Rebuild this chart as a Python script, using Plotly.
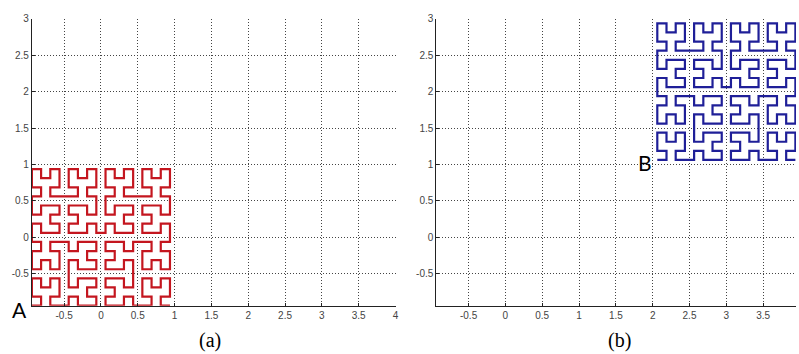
import plotly.graph_objects as go

# ---- data ----
hilbert_order = 4            # order of the Hilbert curve drawn in both panels
curve_scale = 2.0            # curve spans [-1, 1] (cell centres at +-0.9375)
offset_a = [0.0, 0.0]        # curve A centred at origin
offset_b = [3.0, 2.0]        # curve B translated by (3, 2)
tick_vals = [-0.5, 0, 0.5, 1, 1.5, 2, 2.5, 3, 3.5, 4]
tick_text = ["-0.5", "0", "0.5", "1", "1.5", "2", "2.5", "3", "3.5", "4"]
panel_labels = ["(a)", "(b)"]
curve_labels = ["A", "B"]


def hilbert(n):
    # classic recursive Hilbert curve construction (MATLAB hilbert.m)
    if n <= 0:
        return [0.0], [0.0]
    xo, yo = hilbert(n - 1)
    x = ([0.5 * (-0.5 + v) for v in yo] + [0.5 * (-0.5 + v) for v in xo]
         + [0.5 * (0.5 + v) for v in xo] + [0.5 * (0.5 - v) for v in yo])
    y = ([0.5 * (-0.5 + v) for v in xo] + [0.5 * (0.5 + v) for v in yo]
         + [0.5 * (0.5 + v) for v in yo] + [0.5 * (-0.5 - v) for v in xo])
    return x, y


hx, hy = hilbert(hilbert_order)
hx = [curve_scale * v for v in hx]
hy = [curve_scale * v for v in hy]
xa = [v + offset_a[0] for v in hx]
ya = [v + offset_a[1] for v in hy]
xb = [v + offset_b[0] for v in hx]
yb = [v + offset_b[1] for v in hy]
lo = min(hx)

W, H = 799, 354
fig = go.Figure()
fig.add_trace(go.Scatter(x=xa, y=ya, mode="lines", line=dict(color="#c4161f", width=2.2),
                         xaxis="x", yaxis="y", showlegend=False))
fig.add_trace(go.Scatter(x=xb, y=yb, mode="lines", line=dict(color="#1f1f98", width=2.2),
                         xaxis="x2", yaxis="y2", showlegend=False))

ax_common = dict(
    showline=True, linecolor="#222", linewidth=1,
    showgrid=True, gridcolor="#444", griddash="1px,2px", gridwidth=1,
    zeroline=False, ticks="inside", ticklen=3, tickcolor="#222",
    tickvals=tick_vals, ticktext=tick_text,
    tickfont=dict(family="Liberation Sans, Arial", size=10, color="#444"),
    mirror=False, fixedrange=True,
)

ytop = 1 - 14 / H
ybot = 1 - 305 / H
px_per_unit = 365 / (4 - lo)
fig.update_layout(
    width=W, height=H,
    margin=dict(l=0, r=0, t=0, b=0),
    paper_bgcolor="white", plot_bgcolor="white",
    xaxis=dict(domain=[32 / W, 397 / W], range=[lo, 4], anchor="y", **ax_common),
    yaxis=dict(domain=[ybot, ytop], range=[lo, 3], anchor="x", **ax_common),
    xaxis2=dict(domain=[438 / W, 1.0], range=[lo, lo + 361 / px_per_unit], anchor="y2", **ax_common),
    yaxis2=dict(domain=[ybot, ytop], range=[lo, 3], anchor="x2", **ax_common),
)

annots = [
    (211 / W, 1 - 340 / H, panel_labels[0], "Liberation Serif, Times New Roman", 20),
    (622 / W, 1 - 340 / H, panel_labels[1], "Liberation Serif, Times New Roman", 20),
    (20 / W, 1 - 309 / H, curve_labels[0], "Lato, Open Sans, sans-serif", 21),
    (647 / W, 1 - 160 / H, curve_labels[1], "Lato, Open Sans, sans-serif", 21),
]
for ax_, ay_, txt, fam, sz in annots:
    fig.add_annotation(x=ax_, y=ay_, xref="paper", yref="paper", text=txt, showarrow=False,
                       xanchor="center", yanchor="middle",
                       font=dict(family=fam, size=sz, color="black"))

fig.write_html("out.html", config={"displayModeBar": False},
               post_script="document.body.style.margin='0';document.body.style.overflow='hidden';")
